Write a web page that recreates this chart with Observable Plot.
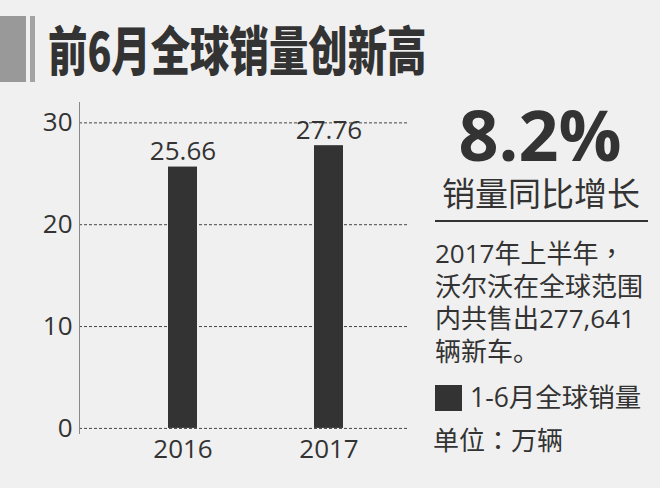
<!DOCTYPE html>
<html><head><meta charset="utf-8">
<script src="https://cdn.jsdelivr.net/npm/d3@7"></script>
<script src="https://cdn.jsdelivr.net/npm/@observablehq/plot@0.6"></script>
<style>
body{margin:0;background:#f0f0f0;}
#root{position:relative;width:660px;height:488px;overflow:hidden;background:#f0f0f0;font-family:"Open Sans","Noto Sans CJK SC",sans-serif;color:#333;}
.abs{position:absolute;white-space:nowrap;line-height:1;}
.p{font-family:"Noto Sans CJK TC";}
#chart{position:absolute;left:0;top:0;}
</style></head><body><div id="root"><div id="chart"></div></div>
<script>
const title = "前6月全球销量创新高";
const years = ["2016", "2017"];
const sales = [25.66, 27.76];
const yTicks = [0, 10, 20, 30];
const growth = "8.2%";
const growthLabel = "销量同比增长";
const noteLines = ["2017年上半年，", "沃尔沃在全球范围", "内共售出277,641", "辆新车。"];
const legendLabel = "1-6月全球销量";
const unitLabel = "单位：万辆";

const data = years.map((y, i) => ({year: y, value: sales[i]}));

const chart = Plot.plot({
  width: 430, height: 488,
  marginLeft: 79, marginRight: 23, marginTop: 102, marginBottom: 55,
  style: {background: "transparent", fontFamily: '"Open Sans", sans-serif', color: "#333"},
  x: {type: "band", domain: years, paddingInner: 0.8, paddingOuter: 0.52, align: 0.58, label: null},
  y: {domain: [-0.5, 32], ticks: yTicks, label: null},
  marks: [
    Plot.ruleY(yTicks, {stroke: "#444", strokeDasharray: "3,2", strokeWidth: 1}),
    Plot.frame({anchor: "left", stroke: "#888"}),
    Plot.barY(data, {x: "year", y: "value", fill: "#333"}),
    Plot.text(data, {x: "year", y: "value", text: d => d.value.toFixed(2), dy: -7, lineAnchor: "bottom", fontSize: 26, fill: "#333"}),
    Plot.axisY({ticks: yTicks, tickSize: 0, tickPadding: 7, fontSize: 26, label: null}),
    Plot.axisX({tickSize: 0, tickPadding: 6, fontSize: 26, label: null})
  ]
});
document.getElementById("chart").appendChild(chart);

const root = document.getElementById("root");
function esc(s) { return s.replace(/[&<>]/g, c => ({"&": "&amp;", "<": "&lt;", ">": "&gt;"}[c])); }
function punct(s) { return esc(s).replace(/([，：])/g, '<span class="p">$1</span>'); }
function add(text, css) {
  const d = document.createElement("div");
  d.className = "abs";
  d.innerHTML = punct(text);
  Object.assign(d.style, css);
  root.appendChild(d);
  return d;
}
add("", {left: "0px", top: "16px", width: "26px", height: "66px", background: "#999"});
add("", {left: "30px", top: "16px", width: "5px", height: "66px", background: "#a3a3a3"});
add(title, {left: "48px", top: "22px", fontSize: "53px", fontWeight: "900", fontFamily: '"Noto Sans CJK SC"', transform: "scaleX(0.743)", transformOrigin: "left top"});
add(growth, {left: "440px", top: "103px", width: "200px", textAlign: "center", fontSize: "70px", fontWeight: "700", lineHeight: "62px"});
add(growthLabel, {left: "440px", top: "176px", width: "202px", textAlign: "center", fontSize: "33px", fontFamily: '"Noto Sans CJK SC"'});
add("", {left: "435px", top: "220px", width: "213px", height: "2px", background: "#333"});
const note = add("", {left: "435px", top: "236px", fontSize: "26px", lineHeight: "32.7px"});
note.innerHTML = noteLines.map(punct).join("<br>");
add("", {left: "435px", top: "385px", width: "27px", height: "26px", background: "#333"});
add(legendLabel, {left: "470px", top: "384px", fontSize: "26.5px"});
add(unitLabel, {left: "433px", top: "426px", fontSize: "26px"});
</script></body></html>
